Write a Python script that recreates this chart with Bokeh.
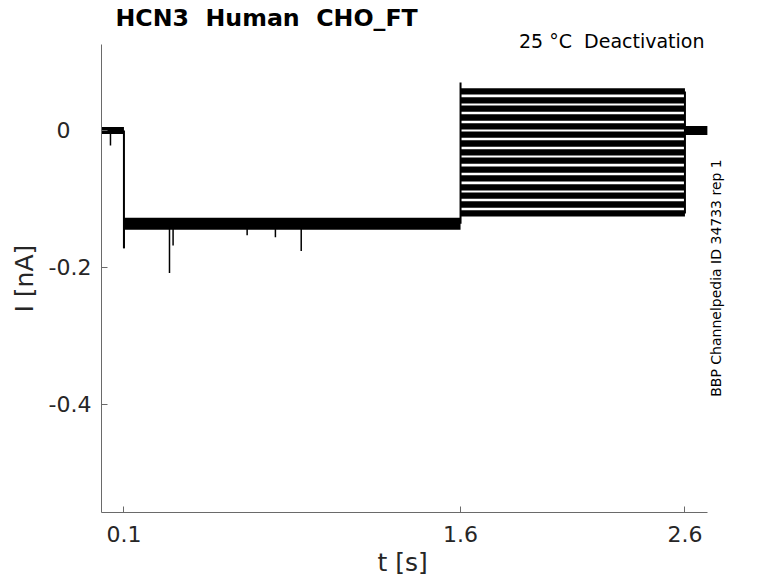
from bokeh.plotting import figure
from bokeh.models import Range1d, FixedTicker, Label, Title
from bokeh.embed import file_html
from bokeh.resources import INLINE
import math

# ---- data ----
t_hold_end = 0.1      # s, end of holding period
t_act_end = 1.6       # s, end of activating step
t_deact_end = 2.6     # s, end of deactivation steps
t_end = 2.7           # s, end of record

i_hold = 0.0          # nA
i_act = -0.136        # nA, activation step current
i_post = 0.0          # nA

# deactivation step currents (one per trace), nA
deact_levels = [0.057, 0.044, 0.032, 0.019, 0.006, -0.006, -0.019, -0.032,
                -0.044, -0.057, -0.070, -0.083, -0.095, -0.108, -0.121]

# transient spikes during holding/activation: time (s), peak current (nA), base (nA)
spike_t = [0.04, 0.1, 0.303, 0.319, 0.649, 0.775, 0.890]
spike_peak = [-0.022, -0.172, -0.208, -0.168, -0.153, -0.156, -0.176]
spike_base = [0.0, -0.136, -0.136, -0.136, -0.136, -0.136, -0.136]

# capacitive transient at start of deactivation step
deact_spike_peak = 0.070

# axis limits
t_min, t_max = 0.0, 2.7
i_min, i_max = -0.5577, 0.126

NB = "\u00a0"
x_ticks = [0.1, 1.6, 2.6]
y_ticks = [-0.4, -0.2, 0.0]
# MATLAB pads the tick labels to equal width
y_tick_labels = ["-0.4", "-0.2", "0" + NB * 3]

title_text = "HCN3 " + NB + "Human " + NB + "CHO_FT"
cond_text = "25 \u00b0C " + NB + "Deactivation"
side_text = "BBP Channelpedia ID 34733 rep 1"
x_label = "t [s]"
y_label = "I [nA]"

# ---- figure ----
# frame extends over the whole text area; the axes are bounded to the data limits
p = figure(width=778, height=583, output_backend="svg", toolbar_location=None,
           x_range=Range1d(0, 2.8476), y_range=Range1d(-0.55766, 0.18978),
           min_border_left=101, min_border_right=38, min_border_top=0,
           min_border_bottom=71)
p.outline_line_color = None
p.xgrid.visible = False
p.ygrid.visible = False
p.background_fill_color = "white"

ink = "black"

# holding period
p.line([0, t_hold_end], [i_hold, i_hold], line_color=ink, line_width=7)
# activation step
p.line([t_hold_end, t_act_end], [i_act, i_act], line_color=ink, line_width=12)
# deactivation steps
p.multi_line([[t_act_end, t_deact_end] for _ in deact_levels],
             [[lv, lv] for lv in deact_levels], line_color=ink, line_width=6.3)
# after deactivation
p.line([t_deact_end, t_end], [i_post, i_post], line_color=ink, line_width=9)

# step edges
p.segment(x0=[t_hold_end], y0=[i_hold], x1=[t_hold_end], y1=[min(spike_peak[1], i_act)],
          line_color=ink, line_width=2)
p.segment(x0=[t_act_end], y0=[i_act], x1=[t_act_end], y1=[deact_spike_peak],
          line_color=ink, line_width=2)
p.segment(x0=[t_deact_end], y0=[min(deact_levels)], x1=[t_deact_end], y1=[max(deact_levels)],
          line_color=ink, line_width=2)
# spikes
p.segment(x0=spike_t, y0=spike_base, x1=spike_t, y1=spike_peak, line_color=ink, line_width=1.5)

# ---- axes ----
axis_col = "#262626"
for ax in (p.xaxis[0], p.yaxis[0]):
    ax.axis_line_color = "#6a6a6a"
    ax.axis_line_width = 1
    ax.major_tick_line_color = "#6a6a6a"
    ax.major_tick_in = 6
    ax.major_tick_out = 0
    ax.minor_tick_line_color = None
    ax.major_label_text_font = "DejaVu Sans"
    ax.major_label_text_font_size = "22px"
    ax.major_label_text_color = axis_col

p.xaxis.bounds = (t_min, t_max)
p.yaxis.bounds = (i_min, i_max)
p.xaxis.ticker = FixedTicker(ticks=x_ticks)
p.yaxis.ticker = FixedTicker(ticks=y_ticks)
p.yaxis.major_label_overrides = {v: s for v, s in zip(y_ticks, y_tick_labels)}
p.xaxis.major_label_standoff = 13
p.yaxis.major_label_standoff = 10

# axis titles centred on the bounded axes (not the extended frame)
p.add_layout(Title(text=x_label, align="left", offset=276, standoff=2,
                   text_font="DejaVu Sans", text_font_size="25px",
                   text_font_style="normal", text_color=axis_col), "below")
p.add_layout(Title(text=y_label, align="left", offset=200, standoff=14,
                   text_font="DejaVu Sans", text_font_size="25px",
                   text_font_style="normal", text_color=axis_col), "left")

# ---- texts (screen units relative to the frame: x from left, y from bottom) ----
p.add_layout(Label(x=14, y=495, x_units="screen", y_units="screen", text=title_text,
                   text_font="DejaVu Sans", text_font_style="bold", text_font_size="23.7px",
                   text_color="black", text_baseline="alphabetic", text_align="left"))
p.add_layout(Label(x=603, y=472, x_units="screen", y_units="screen", text=cond_text,
                   text_font="DejaVu Sans", text_font_size="19px",
                   text_color="black", text_baseline="alphabetic", text_align="right"))
p.add_layout(Label(x=614, y=234.5, x_units="screen", y_units="screen", text=side_text,
                   angle=math.pi / 2, text_font="DejaVu Sans", text_font_size="14px",
                   text_color="black", text_baseline="middle", text_align="center"))

open("out.html", "w").write(file_html(p, INLINE))
